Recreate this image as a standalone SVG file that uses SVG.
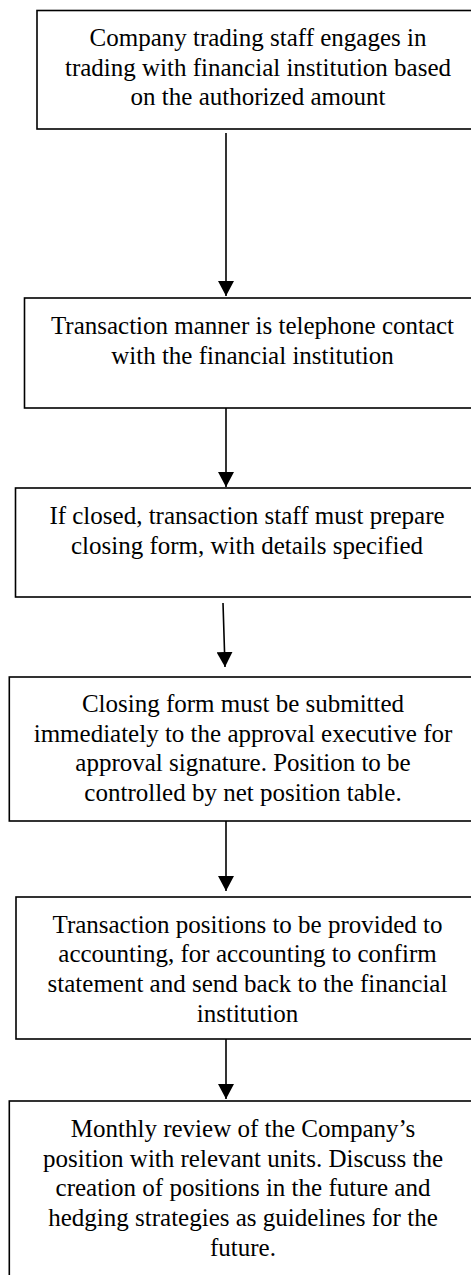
<svg xmlns="http://www.w3.org/2000/svg" width="471" height="1275" viewBox="0 0 471 1275">
<style>
.box{fill:#fff;stroke:#000;stroke-width:1.6}
.t{font-family:'Liberation Serif','Times New Roman',Times,'DejaVu Serif',serif;font-size:25px;fill:#000;text-anchor:middle}
.c{stroke:#000;stroke-width:1.6;fill:none;marker-end:url(#ah)}
</style>
<defs>
<marker id="ah" viewBox="0 0 15 16" markerWidth="15" markerHeight="16" refX="15" refY="8" orient="auto" markerUnits="userSpaceOnUse">
<path d="M0,0 L15,8 L0,16 z" fill="#000"/>
</marker>
</defs>
<rect width="471" height="1275" fill="#fff"/>
<g id="connectors">
<line class="c" x1="226" y1="133" x2="226" y2="296"/>
<line class="c" x1="226" y1="408" x2="226" y2="487"/>
<line class="c" x1="223" y1="603" x2="225" y2="667"/>
<line class="c" x1="226" y1="821" x2="226" y2="891"/>
<line class="c" x1="226" y1="1039" x2="226" y2="1099"/>
</g>
<g id="n1">
<rect class="box" x="37" y="10.5" width="443" height="118.5"/>
<text class="t"><tspan x="258" y="46">Company trading staff engages in</tspan><tspan x="258" y="75.7">trading with financial institution based</tspan><tspan x="258" y="105.4">on the authorized amount</tspan></text>
</g>
<g id="n2">
<rect class="box" x="24.5" y="298" width="456" height="110"/>
<text class="t"><tspan x="252.5" y="334">Transaction manner is telephone contact</tspan><tspan x="252.5" y="363.7">with the financial institution</tspan></text>
</g>
<g id="n3">
<rect class="box" x="15.5" y="488" width="463" height="109"/>
<text class="t"><tspan x="247" y="524">If closed, transaction staff must prepare</tspan><tspan x="247" y="553.7">closing form, with details specified</tspan></text>
</g>
<g id="n4">
<rect class="box" x="9.3" y="677" width="468" height="144"/>
<text class="t"><tspan x="243" y="712">Closing form must be submitted</tspan><tspan x="243" y="741.7">immediately to the approval executive for</tspan><tspan x="243" y="771.4">approval signature. Position to be</tspan><tspan x="243" y="801.1">controlled by net position table.</tspan></text>
</g>
<g id="n5">
<rect class="box" x="16" y="897" width="463" height="142"/>
<text class="t"><tspan x="247.5" y="932.5">Transaction positions to be provided to</tspan><tspan x="247.5" y="962.2">accounting, for accounting to confirm</tspan><tspan x="247.5" y="991.9">statement and send back to the financial</tspan><tspan x="247.5" y="1021.6">institution</tspan></text>
</g>
<g id="n6">
<rect class="box" x="9.3" y="1101" width="467" height="200"/>
<text class="t"><tspan x="243" y="1137">Monthly review of the Company’s</tspan><tspan x="243" y="1166.7">position with relevant units. Discuss the</tspan><tspan x="243" y="1196.4">creation of positions in the future and</tspan><tspan x="243" y="1226.1">hedging strategies as guidelines for the</tspan><tspan x="243" y="1255.8">future.</tspan></text>
</g>
</svg>
